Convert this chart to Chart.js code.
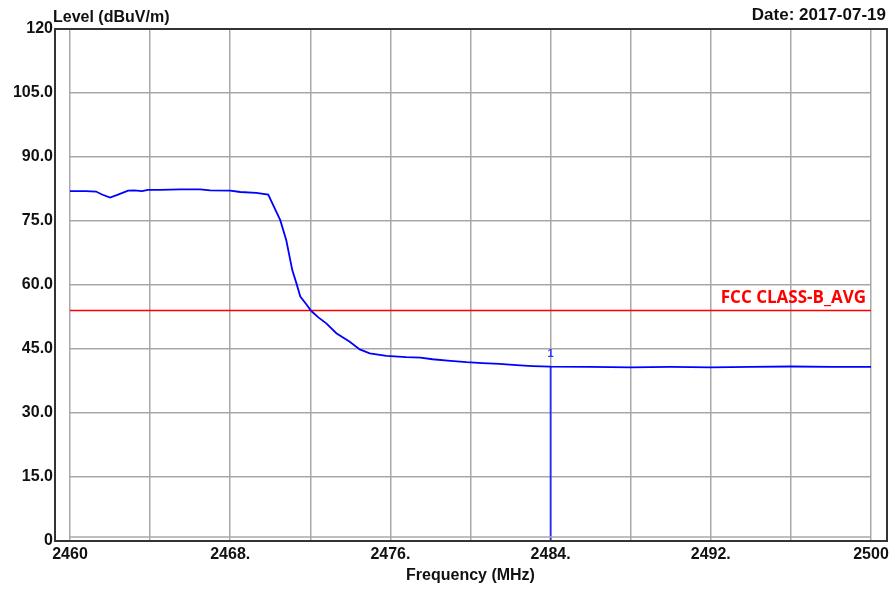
<!DOCTYPE html>
<html>
<head>
<meta charset="utf-8">
<script src="https://cdn.jsdelivr.net/npm/chart.js@4.4.0/dist/chart.umd.min.js"></script>
<style>
  html, body { margin: 0; padding: 0; background: #fff; }
  #wrap { width: 896px; height: 590px; }
</style>
</head>
<body>
<div id="wrap"><canvas id="myChart" width="896" height="590"></canvas></div>
<script>
const freqs = [2460, 2460.8, 2461.3, 2461.6, 2462.0, 2462.4, 2462.9, 2463.2, 2463.6, 2463.9,
    2464.5, 2465.5, 2466.5, 2467.0, 2468.0, 2468.5, 2469.3, 2469.9, 2470.1, 2470.5,
    2470.8, 2471.1, 2471.3, 2471.5, 2471.8, 2472.05, 2472.4, 2472.8, 2473.3, 2473.97,
    2474.47, 2474.97, 2475.8, 2476.8, 2477.5, 2478.1, 2479.0, 2479.8, 2480.6, 2481.45,
    2482.3, 2483.1, 2484.0, 2486, 2488, 2490, 2492, 2494, 2496, 2498, 2500];
const levels = [82.0, 82.0, 81.9, 81.2, 80.5, 81.2, 82.1, 82.2, 82.0, 82.3,
    82.3, 82.4, 82.4, 82.2, 82.1, 81.8, 81.6, 81.2, 79.2, 75.2,
    70.5, 63.5, 60.5, 57.3, 55.5, 53.9, 52.4, 51.0, 48.7, 46.7,
    44.9, 44.0, 43.4, 43.1, 43.0, 42.6, 42.2, 41.9, 41.7, 41.5,
    41.2, 41.0, 40.85, 40.8, 40.7, 40.8, 40.7, 40.8, 40.9, 40.8, 40.8];

// limit line
const limitFreqs = [2460, 2500];
const limitLevels = [54.0, 54.0];
const limitName = 'FCC CLASS-B_AVG';

// marker 1
const markerFreq = 2484;
const markerLevel = 40.85;

// axis ticks
const xTicks = [2460, 2464, 2468, 2472, 2476, 2480, 2484, 2488, 2492, 2496, 2500];
const xLabels = ['2460', '', '2468.', '', '2476.', '', '2484.', '', '2492.', '', '2500'];
const yTicks = [0, 15, 30, 45, 60, 75, 90, 105, 120];
const yLabels = ['0', '15.0', '30.0', '45.0', '60.0', '75.0', '90.0', '105.0', '120'];

const tickFont = { family: 'Liberation Sans', size: 16, weight: 'bold' };

// outer frame + header texts + limit name + marker label
const extras = {
    id: 'extras',
    afterDraw(chart) {
        const ctx = chart.ctx;
        const a = chart.chartArea;
        const xs = chart.scales.x, ys = chart.scales.y;
        ctx.save();
        // light inner line at the bottom of the grid box
        ctx.strokeStyle = '#a8a8a8';
        ctx.lineWidth = 1.5;
        ctx.beginPath();
        ctx.moveTo(a.left, a.bottom - 4);
        ctx.lineTo(a.right, a.bottom - 4);
        ctx.stroke();

        ctx.strokeStyle = '#333';
        ctx.lineWidth = 2;
        ctx.strokeRect(a.left - 15, a.top, a.right - a.left + 31, a.bottom - a.top);

        ctx.fillStyle = '#111';
        ctx.font = 'bold 16px "Liberation Sans"';
        ctx.textBaseline = 'middle';
        ctx.textAlign = 'left';
        ctx.fillText('Level (dBuV/m)', 53, 18);
        ctx.textAlign = 'right';
        ctx.font = 'bold 17px "Liberation Sans"';
        ctx.fillText('Date: 2017-07-19', 886, 15);

        ctx.fillStyle = '#ff0000';
        ctx.font = 'bold 17px "Open Sans"';
        ctx.fillText(limitName, xs.getPixelForValue(2499.75), ys.getPixelForValue(limitLevels[1]) - 12);

        ctx.fillStyle = '#3030ff';
        ctx.font = 'bold 11px "Liberation Sans"';
        ctx.textAlign = 'center';
        ctx.fillText('1', xs.getPixelForValue(markerFreq), ys.getPixelForValue(markerLevel) - 13);
        ctx.restore();
    }
};

const ctx = document.getElementById('myChart').getContext('2d');
const myChart = new Chart(ctx, {
    type: 'line',
    data: {
        datasets: [
            {
                label: 'Level',
                data: freqs.map((f, i) => ({ x: f, y: levels[i] })),
                borderColor: '#0000ff',
                borderWidth: 1.8,
                pointRadius: 0,
                tension: 0
            },
            {
                label: limitName,
                data: limitFreqs.map((f, i) => ({ x: f, y: limitLevels[i] })),
                borderColor: '#ff0000',
                borderWidth: 1.5,
                pointRadius: 0
            },
            {
                label: 'Marker 1',
                data: [{ x: markerFreq, y: 0 }, { x: markerFreq, y: markerLevel }],
                borderColor: '#2a2aff',
                borderWidth: 1.8,
                pointRadius: 0
            }
        ]
    },
    options: {
        responsive: false,
        animation: false,
        layout: { padding: { top: 29, right: 25, left: 0, bottom: 0 } },
        plugins: {
            legend: { display: false },
            tooltip: { enabled: false }
        },
        scales: {
            x: {
                type: 'linear',
                min: 2460,
                max: 2500,
                afterBuildTicks: scale => { scale.ticks = xTicks.map(v => ({ value: v })); },
                afterFit: scale => { scale.height = 49; },
                border: { display: false },
                grid: { color: '#a8a8a8', lineWidth: 1.5, drawTicks: false },
                ticks: {
                    autoSkip: false,
                    maxRotation: 0,
                    padding: 4,
                    color: '#111',
                    font: tickFont,
                    callback: (v, i) => xLabels[xTicks.indexOf(v)]
                },
                title: {
                    display: true,
                    text: 'Frequency (MHz)',
                    color: '#111',
                    font: tickFont,
                    padding: { top: 0, bottom: 5 }
                }
            },
            y: {
                min: 0,
                max: 120,
                afterBuildTicks: scale => { scale.ticks = yTicks.map(v => ({ value: v })); },
                afterFit: scale => { scale.width = 70; },
                border: { display: false },
                grid: { color: '#a8a8a8', lineWidth: 1.5, drawTicks: false },
                ticks: {
                    autoSkip: false,
                    padding: 17,
                    color: '#111',
                    font: tickFont,
                    callback: v => yLabels[yTicks.indexOf(v)]
                }
            }
        }
    },
    plugins: [extras]
});
</script>
</body>
</html>
